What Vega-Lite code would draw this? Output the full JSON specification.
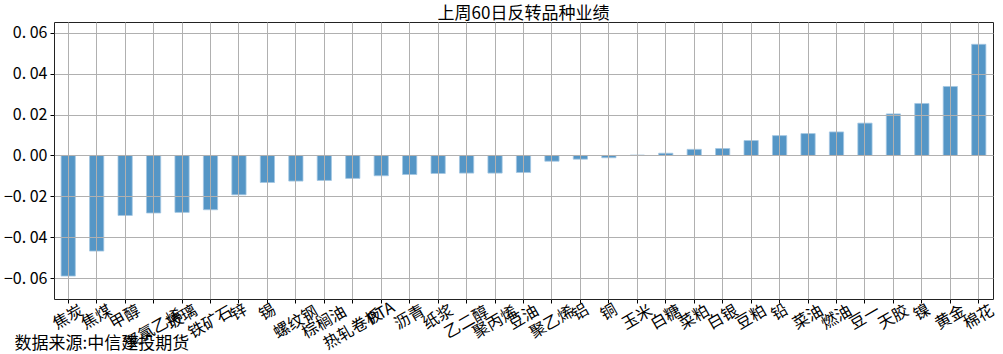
{
  "$schema": "https://vega.github.io/schema/vega-lite/v6.json",
  "width": 939,
  "height": 277,
  "autosize": "none",
  "padding": {"left": 54, "top": 22, "right": 10, "bottom": 55},
  "background": "white",
  "config": {
    "font": "Noto Sans CJK SC",
    "view": {"stroke": "#222", "strokeWidth": 1}
  },
  "title": {
    "text": "上周60日反转品种业绩",
    "fontSize": 17,
    "fontWeight": "normal",
    "color": "#000",
    "offset": -1,
    "anchor": "middle"
  },
  "data": {
    "values": [
      {"品种": "焦炭", "业绩": -0.0589},
      {"品种": "焦煤", "业绩": -0.0467},
      {"品种": "甲醇", "业绩": -0.0293},
      {"品种": "聚氯乙烯", "业绩": -0.0281},
      {"品种": "玻璃", "业绩": -0.0278},
      {"品种": "铁矿石", "业绩": -0.0265},
      {"品种": "锌", "业绩": -0.0192},
      {"品种": "锡", "业绩": -0.0132},
      {"品种": "螺纹钢", "业绩": -0.0125},
      {"品种": "棕榈油", "业绩": -0.0122},
      {"品种": "热轧卷板", "业绩": -0.0112},
      {"品种": "PTA", "业绩": -0.0099},
      {"品种": "沥青", "业绩": -0.0093},
      {"品种": "纸浆", "业绩": -0.0088},
      {"品种": "乙二醇", "业绩": -0.0086},
      {"品种": "聚丙烯", "业绩": -0.0086},
      {"品种": "豆油", "业绩": -0.0083},
      {"品种": "聚乙烯", "业绩": -0.0028},
      {"品种": "铝", "业绩": -0.0018},
      {"品种": "铜", "业绩": -0.0011},
      {"品种": "玉米", "业绩": 0.0002},
      {"品种": "白糖", "业绩": 0.0011},
      {"品种": "菜粕", "业绩": 0.0030},
      {"品种": "白银", "业绩": 0.0034},
      {"品种": "豆粕", "业绩": 0.0073},
      {"品种": "铅", "业绩": 0.0097},
      {"品种": "菜油", "业绩": 0.0107},
      {"品种": "燃油", "业绩": 0.0115},
      {"品种": "豆一", "业绩": 0.0158},
      {"品种": "天胶", "业绩": 0.0203},
      {"品种": "镍", "业绩": 0.0254},
      {"品种": "黄金", "业绩": 0.0337},
      {"品种": "棉花", "业绩": 0.0543}
    ]
  },
  "mark": {"type": "bar", "color": "#5596c6", "stroke": "#a3c6e2", "strokeWidth": 0.8},
  "encoding": {
    "x": {
      "field": "品种",
      "type": "nominal",
      "sort": null,
      "scale": {"paddingInner": 0.5, "paddingOuter": 0.25},
      "axis": {
        "title": "数据来源:中信建投期货",
        "titleX": -40,
        "titleY": 49,
        "titleAlign": "left",
        "titleAnchor": null,
        "titleBaseline": "alphabetic",
        "titleFontSize": 17,
        "titleFontWeight": "normal",
        "titleColor": "#000",
        "labelAngle": -30,
        "labelAlign": "center",
        "labelBaseline": "middle",
        "labelFontSize": 16,
        "labelColor": "#000",
        "labelPadding": {
          "condition": [
            {"test": "datum.value == 'PTA'", "value": 10},
            {"test": "length(datum.value) == 1", "value": 9},
            {"test": "length(datum.value) == 2", "value": 14},
            {"test": "length(datum.value) == 3", "value": 19}
          ],
          "value": 26
        },
        "labelOverlap": false,
        "labelBound": false,
        "labelFlush": false,
        "tickSize": 4,
        "tickColor": "#000",
        "domain": false,
        "grid": true,
        "gridColor": "#b0b0b0",
        "gridWidth": 1,
        "zindex": 1
      }
    },
    "y": {
      "field": "业绩",
      "type": "quantitative",
      "scale": {"domain": [-0.0701, 0.0652], "nice": false, "zero": false},
      "axis": {
        "title": null,
        "values": [-0.06, -0.04, -0.02, 0, 0.02, 0.04, 0.06],
        "labelExpr": "replace(format(datum.value, '.2f'), '.', '. ')",
        "labelFontSize": 16,
        "labelColor": "#000",
        "labelPadding": 3,
        "tickSize": 4,
        "tickColor": "#000",
        "domain": false,
        "grid": true,
        "gridColor": "#b0b0b0",
        "gridWidth": 1,
        "zindex": 1
      }
    }
  }
}
